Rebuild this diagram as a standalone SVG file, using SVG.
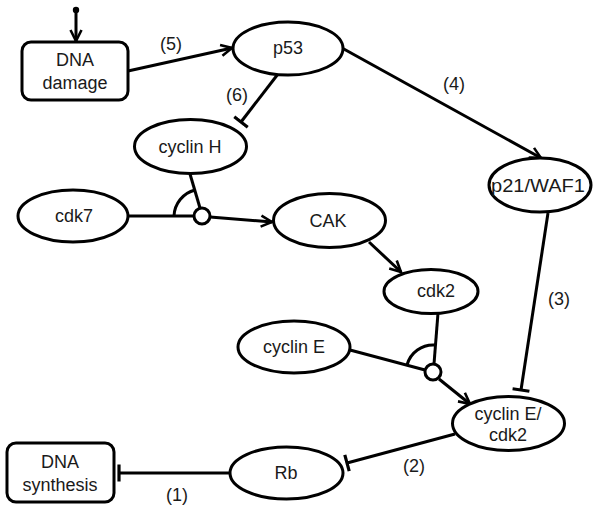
<svg xmlns="http://www.w3.org/2000/svg" width="593" height="506" viewBox="0 0 593 506">
<style>
.node{fill:#fff;stroke:#000;stroke-width:3}
.lbl{font-family:"Liberation Sans",Arial,sans-serif;font-size:18px;fill:#1a1a1a;text-anchor:middle}
.edge{fill:none;stroke:#000;stroke-width:3}
.act{marker-end:url(#arrow)}
.inh{marker-end:url(#tbar)}
</style>
<defs>
<marker id="arrow" viewBox="0 0 14 14" refX="12.5" refY="7" markerWidth="14" markerHeight="14" markerUnits="userSpaceOnUse" orient="auto">
<path d="M1.5,1.5 L12.5,7 L1.5,12.5" fill="none" stroke="#000" stroke-width="2.6"/>
</marker>
<marker id="tbar" viewBox="-2 -10 4 20" refX="0" refY="0" markerWidth="4" markerHeight="20" markerUnits="userSpaceOnUse" orient="auto">
<path d="M0,-8.5 V8.5" stroke="#000" stroke-width="3.2"/>
</marker>
</defs>
<g id="connectors">
<circle cx="76" cy="10" r="3.2" fill="#000"/>
<line class="edge act" x1="76" y1="10" x2="76" y2="41"/>
<line class="edge act" x1="128" y1="71" x2="232" y2="48"/>
<line class="edge inh" x1="278" y1="74" x2="241" y2="122"/>
<line class="edge act" x1="342" y1="48" x2="541" y2="158"/>
<line class="edge" x1="190" y1="174" x2="200" y2="208"/>
<line class="edge" x1="127" y1="216" x2="194" y2="216"/>
<path class="edge" d="M174,216 A28,28 0 0 1 195,190"/>
<line class="edge act" x1="210" y1="217" x2="272" y2="222"/>
<line class="edge act" x1="369" y1="242" x2="401" y2="272"/>
<line class="edge" x1="438" y1="313" x2="434" y2="364"/>
<line class="edge" x1="350" y1="350" x2="425" y2="370"/>
<path class="edge" d="M407,365 A27,27 0 0 1 435,345"/>
<line class="edge act" x1="439" y1="379" x2="470" y2="404"/>
<line class="edge inh" x1="548" y1="213" x2="521" y2="390"/>
<line class="edge inh" x1="455" y1="434" x2="347" y2="463"/>
<line class="edge inh" x1="230" y1="473" x2="119" y2="473"/>
<circle class="node" cx="202" cy="216" r="8"/>
<circle class="node" cx="433" cy="372" r="8"/>
<text class="lbl" x="171" y="50">(5)</text>
<text class="lbl" x="237" y="101">(6)</text>
<text class="lbl" x="454" y="90">(4)</text>
<text class="lbl" x="559" y="305">(3)</text>
<text class="lbl" x="414" y="472">(2)</text>
<text class="lbl" x="177" y="501">(1)</text>
</g>
<g id="dna_damage">
<rect class="node" x="22" y="42" width="106" height="58" rx="9"/>
<text class="lbl" x="75" y="66">DNA</text>
<text class="lbl" x="75" y="89">damage</text>
</g>
<g id="p53">
<ellipse class="node" cx="288" cy="48.5" rx="55" ry="26.5"/>
<text class="lbl" x="288" y="54">p53</text>
</g>
<g id="cyclin_h">
<ellipse class="node" cx="190.5" cy="146.5" rx="56" ry="27"/>
<text class="lbl" x="190" y="153">cyclin H</text>
</g>
<g id="cdk7">
<ellipse class="node" cx="73" cy="216" rx="55" ry="26"/>
<text class="lbl" x="74" y="222">cdk7</text>
</g>
<g id="cak">
<ellipse class="node" cx="329.5" cy="220.5" rx="56" ry="27"/>
<text class="lbl" x="328" y="227">CAK</text>
</g>
<g id="p21_waf1">
<ellipse class="node" cx="540" cy="185" rx="51" ry="27"/>
<text class="lbl" x="538" y="192" textLength="94" lengthAdjust="spacingAndGlyphs">p21/WAF1</text>
</g>
<g id="cdk2">
<ellipse class="node" cx="431" cy="291.5" rx="47" ry="22"/>
<text class="lbl" x="436" y="297">cdk2</text>
</g>
<g id="cyclin_e">
<ellipse class="node" cx="294" cy="347" rx="56" ry="26"/>
<text class="lbl" x="294" y="353">cyclin E</text>
</g>
<g id="cyclin_e_cdk2">
<ellipse class="node" cx="508.5" cy="423.5" rx="56" ry="27"/>
<text class="lbl" x="508" y="420">cyclin E/</text>
<text class="lbl" x="508" y="441">cdk2</text>
</g>
<g id="rb">
<ellipse class="node" cx="286.5" cy="473" rx="56.5" ry="26"/>
<text class="lbl" x="286" y="479">Rb</text>
</g>
<g id="dna_synthesis">
<rect class="node" x="7" y="443" width="107" height="59" rx="9"/>
<text class="lbl" x="60" y="468">DNA</text>
<text class="lbl" x="60" y="491">synthesis</text>
</g>
</svg>
